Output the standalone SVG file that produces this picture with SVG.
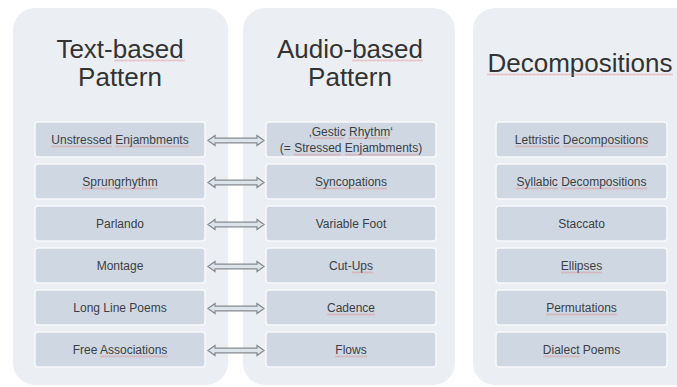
<svg xmlns="http://www.w3.org/2000/svg" width="677" height="387" viewBox="0 0 677 387">
<defs>
<style>
.panel{fill:#ebeef2;}
.box{fill:#cfd8e2;stroke:#f7f9fb;stroke-width:1.5;}
.title{font-family:"Liberation Sans",Arial,sans-serif;font-size:26px;fill:#333333;text-anchor:middle;}
.lbl{font-family:"Liberation Sans",Arial,sans-serif;font-size:12px;fill:#3c4045;text-anchor:middle;}
.arrow{fill:#dde3ea;stroke:#858a91;stroke-width:1.2;}
.sq{fill:url(#squig);}
</style>
<pattern id="squig" x="0" y="0" width="4" height="2" patternUnits="userSpaceOnUse">
<path d="M0,1.5 L1,0.5 L2,1.5 L3,0.5 L4,1.5" fill="none" stroke="#e07070" stroke-width="0.7"/>
</pattern>
<path id="dbl" class="arrow" d="M208,0 L215,-5 L215,-2.3 L257,-2.3 L257,-5 L264,0 L257,5 L257,2.3 L215,2.3 L215,5 Z"/>
</defs>
<rect width="677" height="387" fill="#ffffff"/>

<g id="panel-text">
<rect class="panel" x="13" y="8" width="215" height="377" rx="22"/>
<text class="title" x="120" y="58">Text-based</text>
<text class="title" x="120" y="86">Pattern</text>
<rect class="sq" x="114" y="59.5" width="71" height="2"/>
</g>
<g id="panel-audio">
<rect class="panel" x="243" y="8" width="212" height="377" rx="22"/>
<text class="title" x="350" y="58">Audio-based</text>
<text class="title" x="350" y="86">Pattern</text>
<rect class="sq" x="352" y="59.5" width="71" height="2"/>
</g>
<g id="panel-decomp">
<rect class="panel" x="473" y="8" width="230" height="377" rx="22"/>
<text class="title" x="580" y="72">Decompositions</text>
<rect class="sq" x="487" y="73.5" width="186" height="2"/>
</g>

<g id="t1"><rect class="box" x="35" y="122" width="170" height="35" rx="3"/><text class="lbl" x="120" y="143.8">Unstressed Enjambments</text><rect class="sq" x="51" y="145.5" width="61" height="2"/><rect class="sq" x="115" y="145.5" width="74" height="2"/></g>
<g id="t2"><rect class="box" x="35" y="164" width="170" height="35" rx="3"/><text class="lbl" x="120" y="185.8">Sprungrhythm</text><rect class="sq" x="82" y="187.5" width="76" height="2"/></g>
<g id="t3"><rect class="box" x="35" y="206" width="170" height="35" rx="3"/><text class="lbl" x="120" y="227.8">Parlando</text></g>
<g id="t4"><rect class="box" x="35" y="248" width="170" height="35" rx="3"/><text class="lbl" x="120" y="269.8">Montage</text></g>
<g id="t5"><rect class="box" x="35" y="290" width="170" height="35" rx="3"/><text class="lbl" x="120" y="311.8">Long Line Poems</text></g>
<g id="t6"><rect class="box" x="35" y="332" width="170" height="35" rx="3"/><text class="lbl" x="120" y="353.8">Free Associations</text><rect class="sq" x="100" y="355.5" width="68" height="2"/></g>

<g id="a1"><rect class="box" x="266" y="122" width="170" height="35" rx="3"/><text class="lbl" x="351" y="135.5">‚Gestic Rhythm‘</text><text class="lbl" x="351" y="152">(= Stressed Enjambments)</text><rect class="sq" x="313" y="137.2" width="31" height="2"/><rect class="sq" x="348" y="137.2" width="41" height="2"/><rect class="sq" x="294" y="153.7" width="47" height="2"/><rect class="sq" x="345" y="153.7" width="73" height="2"/></g>
<g id="a2"><rect class="box" x="266" y="164" width="170" height="35" rx="3"/><text class="lbl" x="351" y="185.8">Syncopations</text><rect class="sq" x="315" y="187.5" width="72" height="2"/></g>
<g id="a3"><rect class="box" x="266" y="206" width="170" height="35" rx="3"/><text class="lbl" x="351" y="227.8">Variable Foot</text></g>
<g id="a4"><rect class="box" x="266" y="248" width="170" height="35" rx="3"/><text class="lbl" x="351" y="269.8">Cut-Ups</text><rect class="sq" x="352" y="271.5" width="21" height="2"/></g>
<g id="a5"><rect class="box" x="266" y="290" width="170" height="35" rx="3"/><text class="lbl" x="351" y="311.8">Cadence</text><rect class="sq" x="327" y="313.5" width="48" height="2"/></g>
<g id="a6"><rect class="box" x="266" y="332" width="170" height="35" rx="3"/><text class="lbl" x="351" y="353.8">Flows</text><rect class="sq" x="335" y="355.5" width="32" height="2"/></g>

<g id="d1"><rect class="box" x="496" y="122" width="171" height="35" rx="3"/><text class="lbl" x="581.5" y="143.8">Lettristic Decompositions</text><rect class="sq" x="515" y="145.5" width="45" height="2"/><rect class="sq" x="563" y="145.5" width="85" height="2"/></g>
<g id="d2"><rect class="box" x="496" y="164" width="171" height="35" rx="3"/><text class="lbl" x="581.5" y="185.8">Syllabic Decompositions</text><rect class="sq" x="516" y="187.5" width="42" height="2"/><rect class="sq" x="561" y="187.5" width="86" height="2"/></g>
<g id="d3"><rect class="box" x="496" y="206" width="171" height="35" rx="3"/><text class="lbl" x="581.5" y="227.8">Staccato</text></g>
<g id="d4"><rect class="box" x="496" y="248" width="171" height="35" rx="3"/><text class="lbl" x="581.5" y="269.8">Ellipses</text><rect class="sq" x="561" y="271.5" width="41" height="2"/></g>
<g id="d5"><rect class="box" x="496" y="290" width="171" height="35" rx="3"/><text class="lbl" x="581.5" y="311.8">Permutations</text><rect class="sq" x="546" y="313.5" width="71" height="2"/></g>
<g id="d6"><rect class="box" x="496" y="332" width="171" height="35" rx="3"/><text class="lbl" x="581.5" y="353.8">Dialect Poems</text><rect class="sq" x="543" y="355.5" width="37" height="2"/></g>

<g id="connectors">
<use href="#dbl" y="140.5"/>
<use href="#dbl" y="182.5"/>
<use href="#dbl" y="224.5"/>
<use href="#dbl" y="266.5"/>
<use href="#dbl" y="308.5"/>
<use href="#dbl" y="350.5"/>
</g>
</svg>
